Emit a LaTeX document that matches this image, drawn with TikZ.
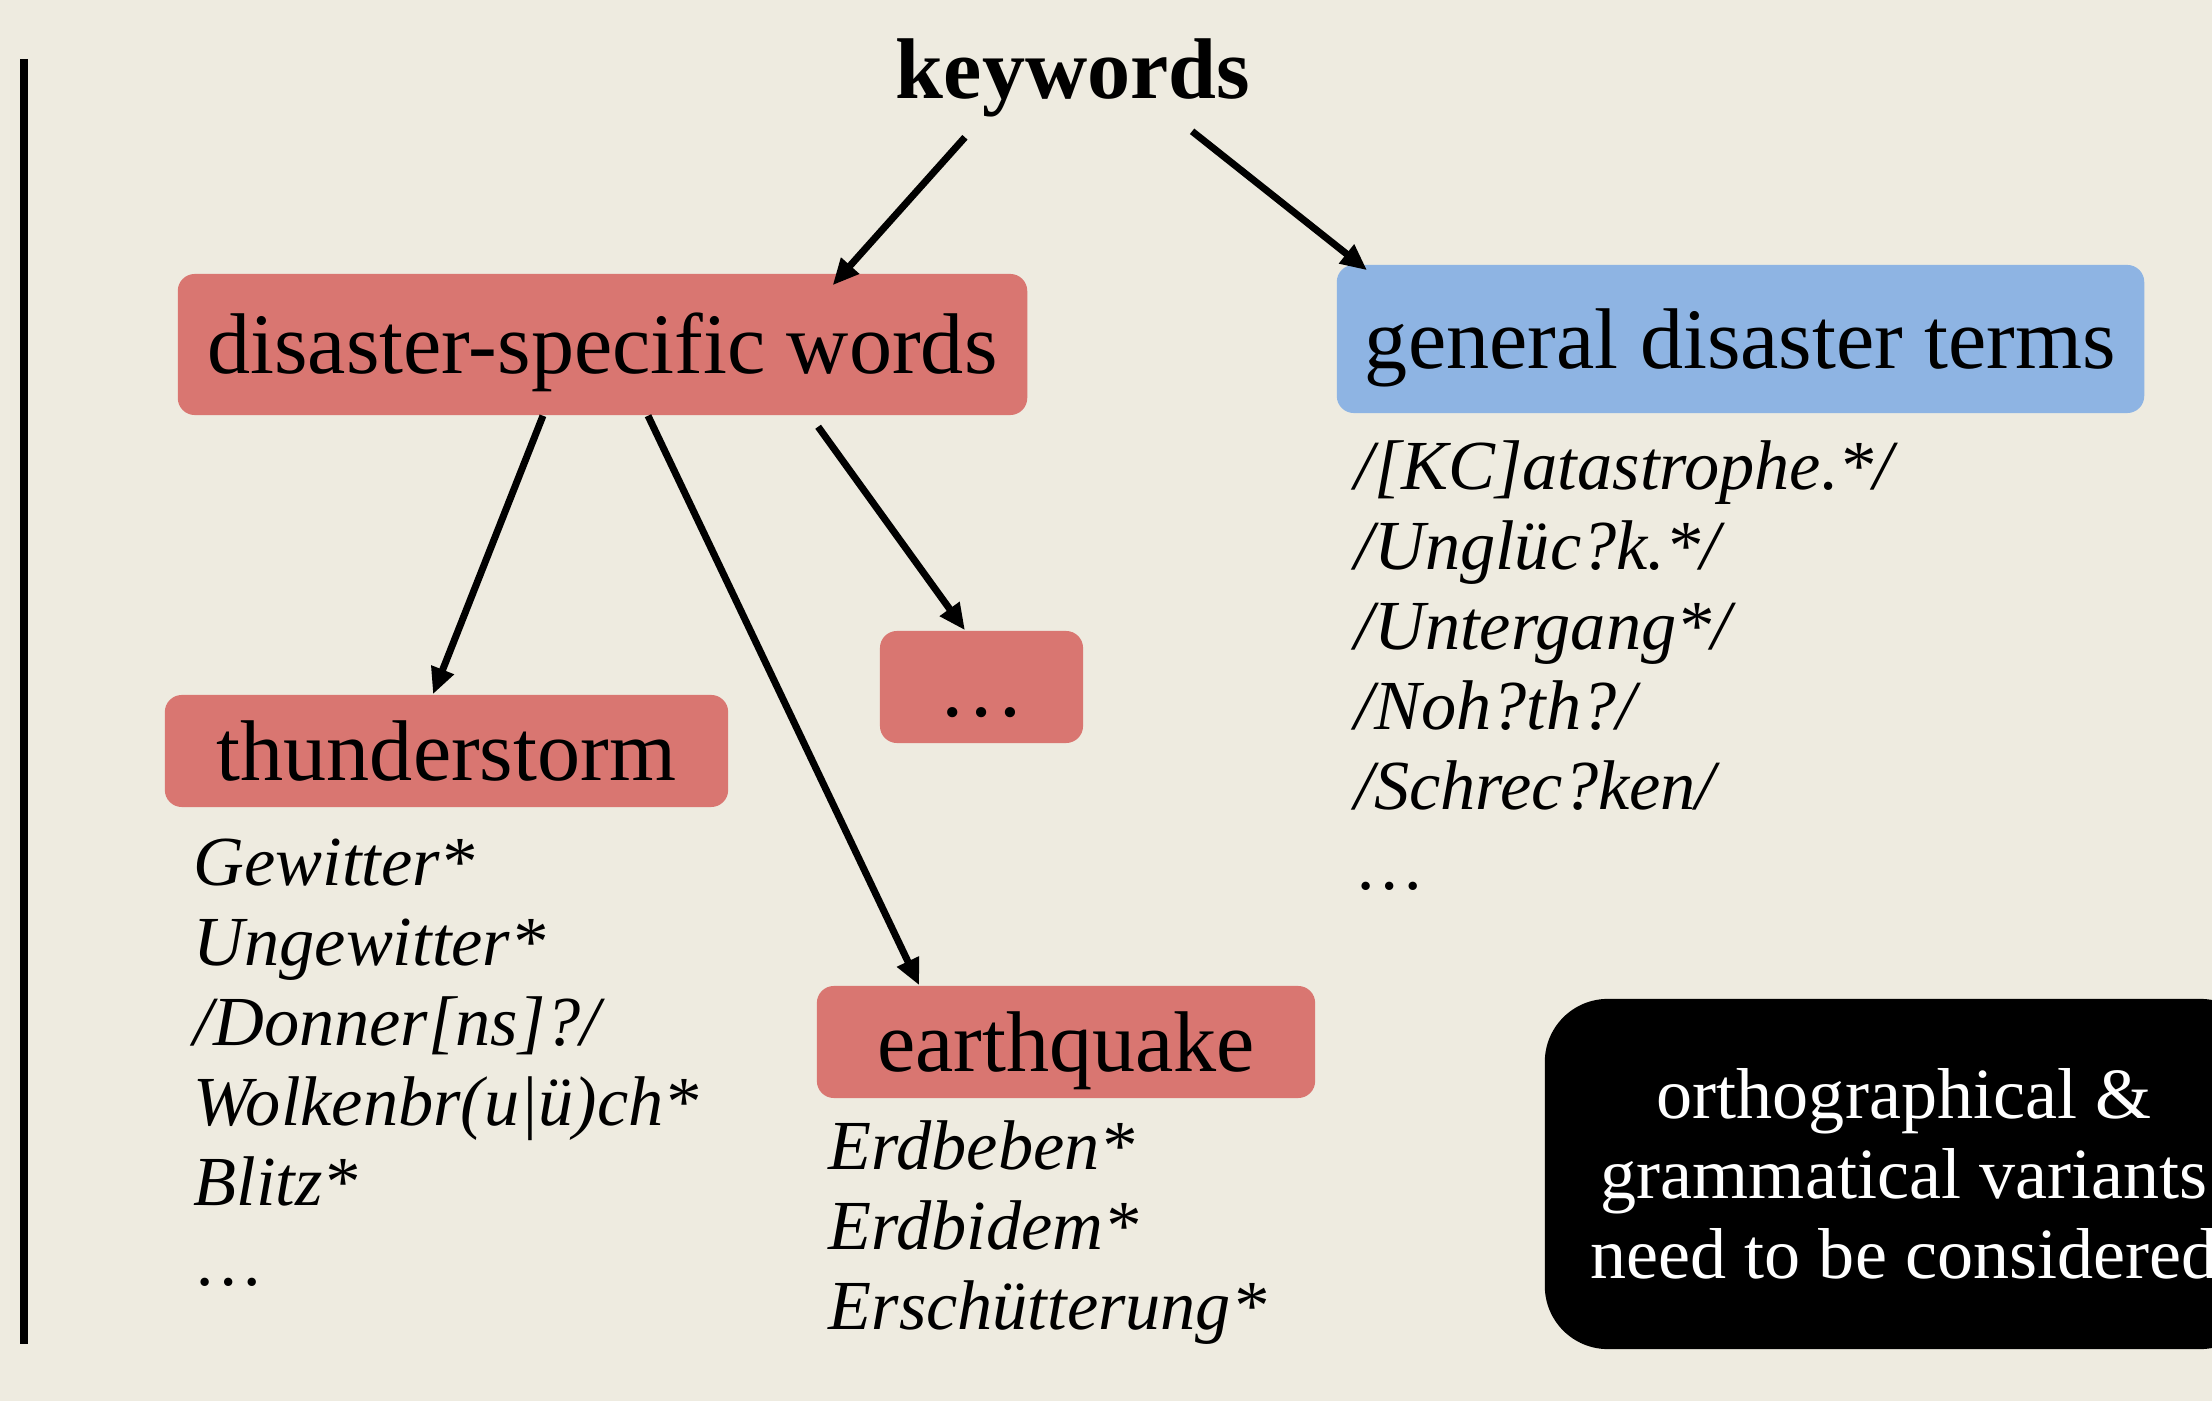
\documentclass[tikz,border=0pt]{standalone}
\usepackage{fontspec}
\setmainfont{Liberation Serif}
\usetikzlibrary{arrows.meta}

\definecolor{slidebg}{HTML}{EEEBE0}
\definecolor{catred}{HTML}{D97671}
\definecolor{genblue}{HTML}{8EB4E3}

\begin{document}
\begin{tikzpicture}[
  x=0.01cm, y=-0.01cm,
  catbox/.style  = {fill=catred, rounded corners=0.17cm, inner sep=0pt,
                    font=\fontsize{24.5}{29}\selectfont,
                    text height=16.7pt, text depth=0pt},
  genbox/.style  = {catbox, fill=genblue},
  head/.style    = {font=\bfseries\fontsize{24.5}{29}\selectfont, inner sep=0.13cm},
  terms/.style   = {anchor=north west, inner sep=0pt, align=left,
                    font=\itshape\fontsize{20}{22.76}\selectfont},
                     % regex lists under a category, one pattern per line
  note/.style    = {fill=black, text=white, rounded corners=0.63cm, align=center,
                    font=\fontsize{20.5}{22.8}\selectfont},
  arrow/.style   = {line width=0.07cm, -{Triangle[length=7.5pt,width=6.5pt]}},
  rule/.style    = {line width=0.07cm},
]

  \useasboundingbox (0,0) rectangle (2212,1401);
  \fill[slidebg] (0,0) rectangle (2212,1401);
  \clip (0,0) rectangle (2212,1401);

  \draw[rule] (24,59) -- (24,1344);

  \node[head, anchor=base] (kw) at (1073,99) {keywords};

  \node[catbox, minimum width=8.49cm, minimum height=1.41cm] (dsw) at (602.5,344.5) {disaster-specific words};
  \node[genbox, minimum width=8.07cm, minimum height=1.48cm] (gen) at (1740.5,339) {general disaster terms};
  \node[catbox, minimum width=5.63cm, minimum height=1.12cm] (thunder) at (446.5,751) {thunderstorm};
  \node[catbox, minimum width=2.03cm, minimum height=1.12cm] (more) at (981.5,687) {\ldots};
  \node[catbox, minimum width=4.98cm, minimum height=1.12cm] (quake) at (1066,1042) {earthquake};

  % the search patterns
  \node[terms] (gen_terms) at (1354,440) {/[KC]atastrophe.*/\\/Unglüc?k.*/\\/Untergang*/\\/Noh?th?/\\/Schrec?ken/\\\upshape\ldots};
  \node[terms] (thunder_terms) at (193,838) {Gewitter*\\Ungewitter*\\/Donner[ns]?/\\Wolkenbr(u|ü)ch*\\Blitz*\\\upshape\ldots};
  \node[terms] (quake_terms) at (828,1120) {Erdbeben*\\Erdbidem*\\Erschütterung*\\\upshape\ldots};

  \node[note, minimum width=7.18cm, minimum height=3.5cm] (variants) at (1904,1174) {orthographical \&\\grammatical variants\\need to be considered};

  \draw[arrow] ([xshift=-1.08cm,yshift=-0.06cm]kw.south) -- ([xshift=2.3cm,yshift=-0.12cm]dsw.north);
  \draw[arrow] ([xshift=1.19cm]kw.south) -- ([xshift=0.31cm,yshift=-0.06cm]gen.north west);
  \draw[arrow] ([xshift=-0.595cm]dsw.south) -- ([xshift=-0.135cm]thunder.north);
  \draw[arrow] ([xshift=0.455cm]dsw.south) -- ([xshift=1.03cm]quake.north west);
  \draw[arrow] ([xshift=2.155cm,yshift=-0.11cm]dsw.south) -- ([xshift=-0.165cm]more.north);
\end{tikzpicture}
\end{document}
